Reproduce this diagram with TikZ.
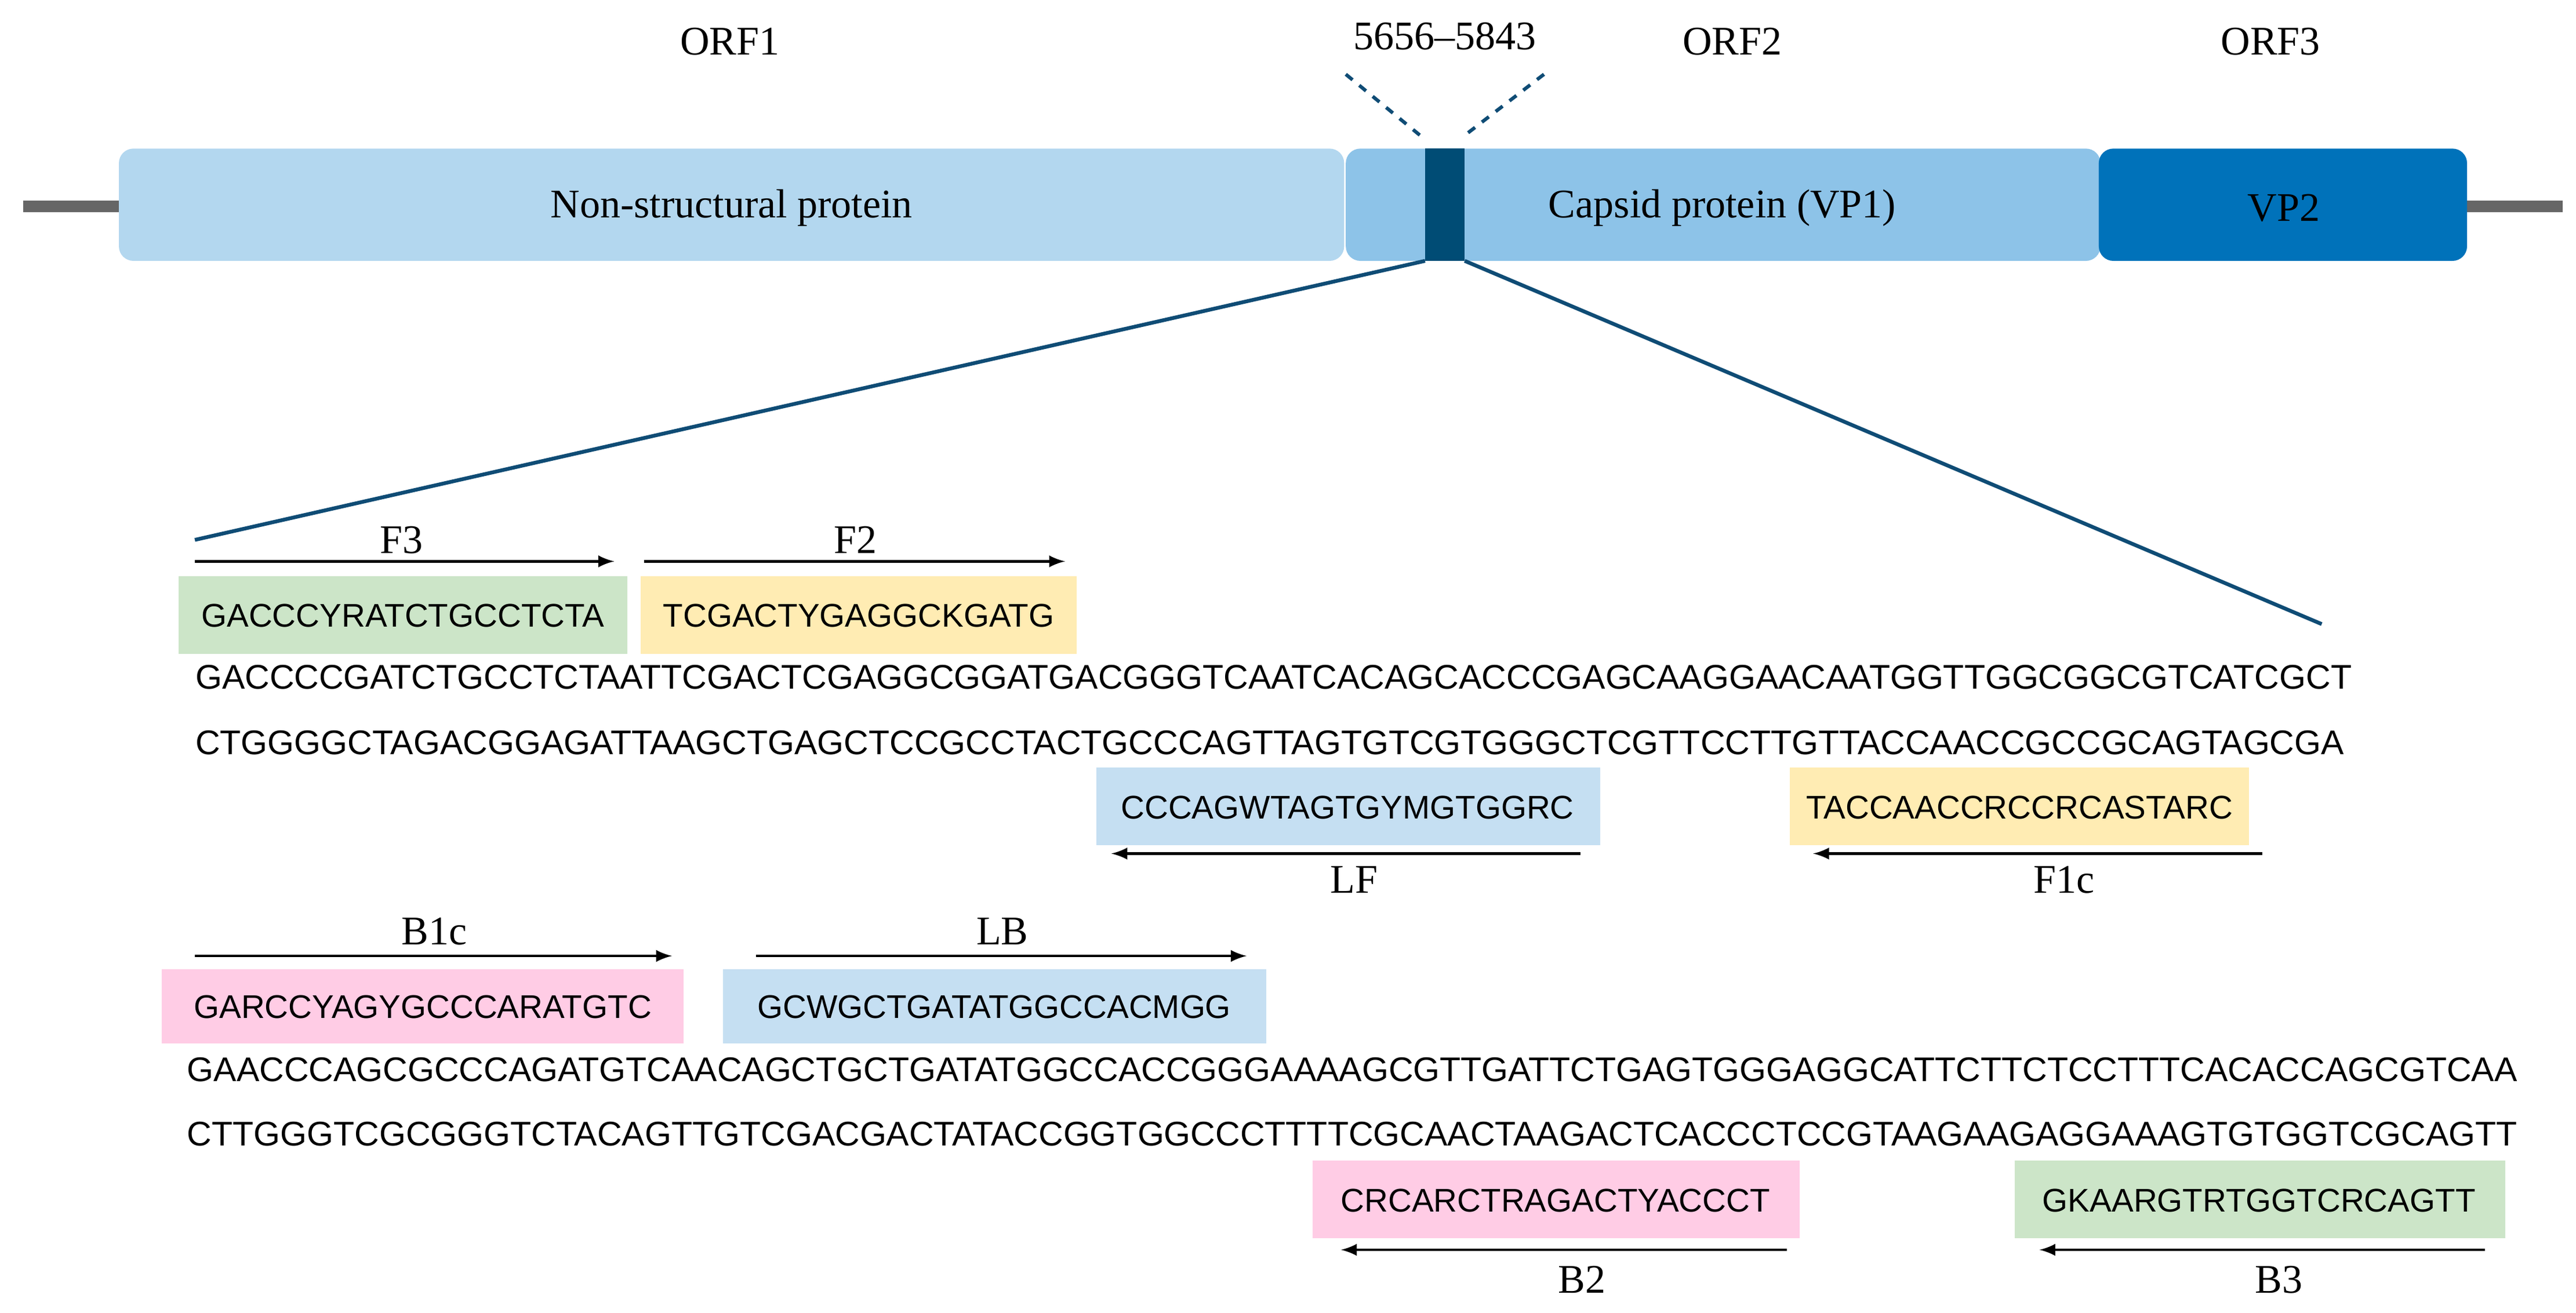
\documentclass[tikz,border=0pt]{standalone}
\usepackage{fontspec}
\setmainfont{Liberation Serif}
\newfontfamily\seqf{Liberation Sans}
\definecolor{nspcol}{HTML}{B3D7EF}
\definecolor{capcol}{HTML}{8DC3E8}
\definecolor{bandcol}{HTML}{004C75}
\definecolor{vptwocol}{HTML}{0072BA}
\definecolor{zlcol}{HTML}{0F4C75}
\definecolor{pgcol}{HTML}{CCE5C8}
\definecolor{pycol}{HTML}{FFECB3}
\definecolor{pbcol}{HTML}{C5DFF2}
\definecolor{ppcol}{HTML}{FFCCE5}
\begin{document}
\begin{tikzpicture}[x=0.02cm,y=-0.02cm,
  lab/.style={font=\fontsize{14}{16}\selectfont},
  seq/.style={font=\seqf\fontsize{11.8}{13}\selectfont,anchor=west,inner sep=0},
  prim/.style={font=\seqf\fontsize{11.3}{13}\selectfont,inner sep=0},
  arr/.style={-latex,line width=0.9pt},
  zoomline/.style={draw=zlcol,line width=1.3pt}]
\useasboundingbox (0,0) rectangle (1560,795);
% genome
\draw[line width=4pt,gray!80!black] (14,125) -- (72,125);
\draw[line width=4pt,gray!80!black] (1494,125) -- (1552,125);
\fill[nspcol,rounded corners=5pt] (72,90) rectangle (814,158);
\fill[capcol,rounded corners=5pt] (815,90) rectangle (1272,158);
\fill[vptwocol,rounded corners=5pt] (1271,90) rectangle (1494,158);
\fill[bandcol] (863,90) rectangle (887,158);
\node[lab] (ns) at (443,126) {Non-structural protein};
\node[lab] (cp) at (1043,126) {Capsid protein (VP1)};
\node[lab] (vp) at (1383,126) {VP2};
\node[lab] (o1) at (442,25) {ORF1};
\node[lab] (o2) at (1049,25) {ORF2};
\node[lab] (o3) at (1375,25) {ORF3};
\node[lab] (pos) at (875,22) {5656–5843};
\coordinate (d1a) at (815,45); \coordinate (d1b) at (860,82);
\coordinate (d2a) at (935,45); \coordinate (d2b) at (887,82);
\draw[zlcol,dashed,line width=1.2pt] (d1a) -- (d1b);
\draw[zlcol,dashed,line width=1.2pt] (d2a) -- (d2b);
\coordinate (z1a) at (863,158); \coordinate (z1b) at (118,327);
\coordinate (z2a) at (887,158); \coordinate (z2b) at (1406,378);
\draw[zoomline] (z1a) -- (z1b);
\draw[zoomline] (z2a) -- (z2b);
% first block
\coordinate (a1s) at (118,340); \coordinate (a1e) at (372,340);
\draw[arr] (a1s) -- (a1e); \node[lab] (lF3) at (243,327) {F3};
\coordinate (a2s) at (390,340); \coordinate (a2e) at (645,340);
\draw[arr] (a2s) -- (a2e); \node[lab] (lF2) at (518,327) {F2};
\fill[pgcol] (108,349) rectangle (380,396); \node[prim] (pF3) at (244,373) {GACCCYRATCTGCCTCTA};
\fill[pycol] (388,349) rectangle (652,396); \node[prim] (pF2) at (520,373) {TCGACTYGAGGCKGATG};
\node[seq] (s1) at (118,410) {GACCCCGATCTGCCTCTAATTCGACTCGAGGCGGATGACGGGTCAATCACAGCACCCGAGCAAGGAACAATGGTTGGCGGCGTCATCGCT};
\node[seq] (s2) at (118,450) {CTGGGGCTAGACGGAGATTAAGCTGAGCTCCGCCTACTGCCCAGTTAGTGTCGTGGGCTCGTTCCTTGTTACCAACCGCCGCAGTAGCGA};
\fill[pbcol] (664,465) rectangle (969,512); \node[prim] (pLF) at (816,489) {CCCAGWTAGTGYMGTGGRC};
\fill[pycol] (1084,465) rectangle (1362,512); \node[prim] (pF1c) at (1223,489) {TACCAACCRCCRCASTARC};
\coordinate (a3s) at (957,517); \coordinate (a3e) at (673,517);
\draw[arr] (a3s) -- (a3e); \node[lab] (lLF) at (820,533) {LF};
\coordinate (a4s) at (1370,517); \coordinate (a4e) at (1098,517);
\draw[arr] (a4s) -- (a4e); \node[lab] (lF1c) at (1250,533) {F1c};
% second block
\coordinate (a5s) at (118,579); \coordinate (a5e) at (407,579);
\draw[arr] (a5s) -- (a5e); \node[lab] (lB1c) at (263,564) {B1c};
\coordinate (a6s) at (458,579); \coordinate (a6e) at (755,579);
\draw[arr] (a6s) -- (a6e); \node[lab] (lLB) at (607,564) {LB};
\fill[ppcol] (98,587) rectangle (414,632); \node[prim] (pB1c) at (256,610) {GARCCYAGYGCCCARATGTC};
\fill[pbcol] (438,587) rectangle (767,632); \node[prim] (pLB) at (602,610) {GCWGCTGATATGGCCACMGG};
\node[seq] (s3) at (113,648) {GAACCCAGCGCCCAGATGTCAACAGCTGCTGATATGGCCACCGGGAAAAGCGTTGATTCTGAGTGGGAGGCATTCTTCTCCTTTCACACCAGCGTCAA};
\node[seq] (s4) at (113,687) {CTTGGGTCGCGGGTCTACAGTTGTCGACGACTATACCGGTGGCCCTTTTCGCAACTAAGACTCACCCTCCGTAAGAAGAGGAAAGTGTGGTCGCAGTT};
\fill[ppcol] (795,703) rectangle (1090,750); \node[prim] (pB2) at (942,727) {CRCARCTRAGACTYACCCT};
\fill[pgcol] (1220,703) rectangle (1517,750); \node[prim] (pB3) at (1368,727) {GKAARGTRTGGTCRCAGTT};
\coordinate (a7s) at (1082,757); \coordinate (a7e) at (812,757);
\draw[arr] (a7s) -- (a7e); \node[lab] (lB2) at (958,775) {B2};
\coordinate (a8s) at (1505,757); \coordinate (a8e) at (1235,757);
\draw[arr] (a8s) -- (a8e); \node[lab] (lB3) at (1380,775) {B3};
\end{tikzpicture}
\end{document}
